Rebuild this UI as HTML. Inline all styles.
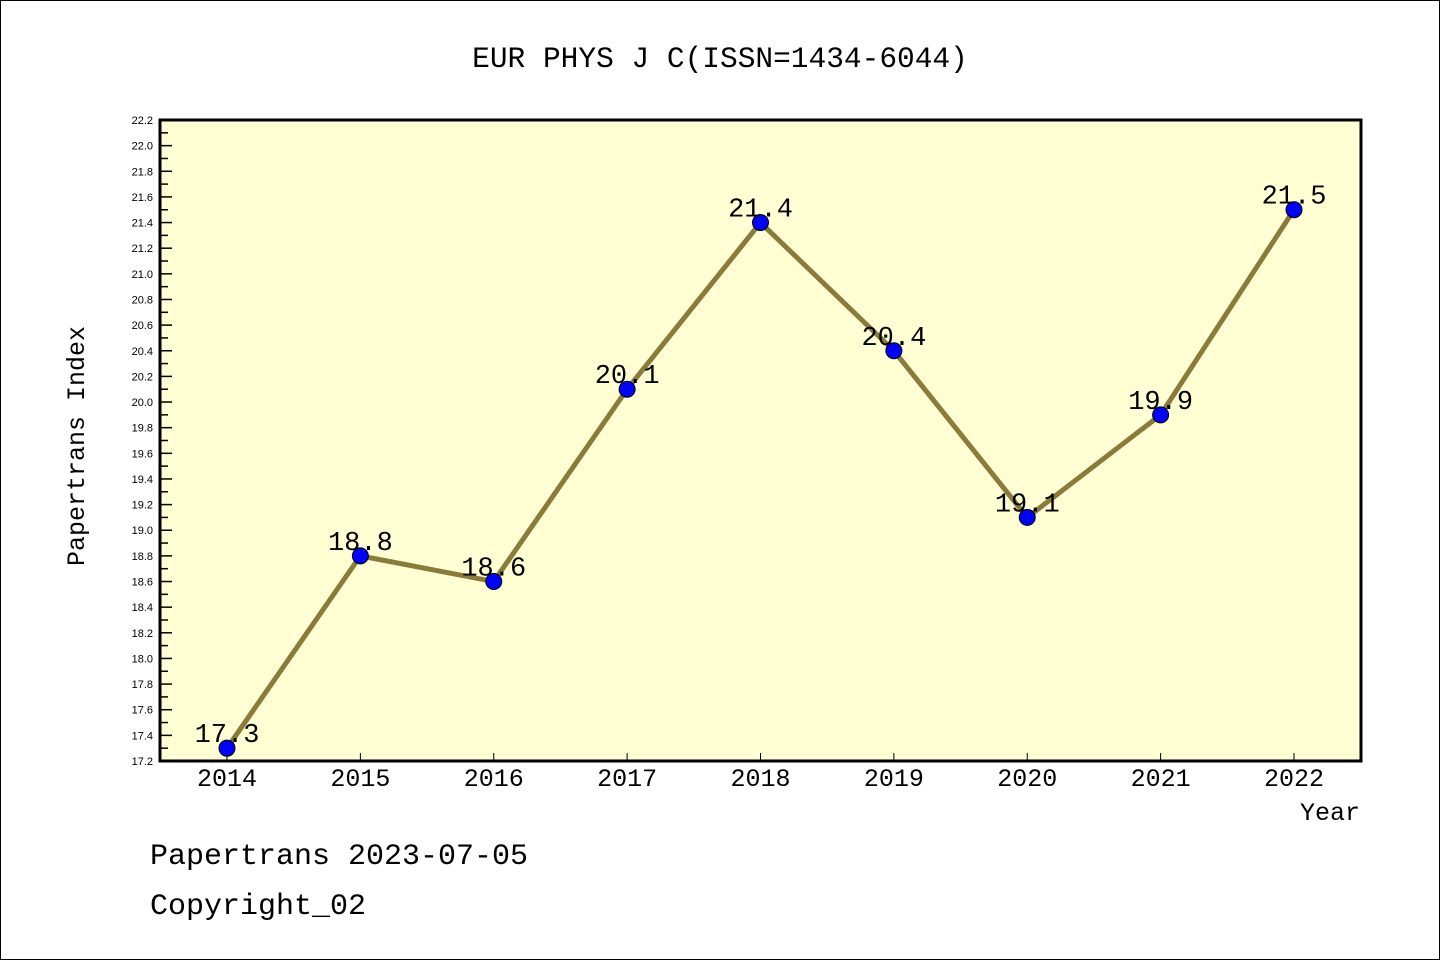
<!DOCTYPE html>
<html><head><meta charset="utf-8"><style>
body{margin:0;background:#fff}
svg{display:block;font-family:"Liberation Mono","WenQuanYi Zen Hei",monospace}
</style></head><body>
<svg width="1440" height="960" viewBox="0 0 1440 960">
<rect x="0.5" y="0.5" width="1439" height="959" fill="#fff" stroke="#000"/>
<text x="720" y="67" font-size="29.5" text-anchor="middle">EUR PHYS J C(ISSN=1434-6044)</text>
<rect x="160" y="120" width="1201" height="641" fill="#ffffd3" stroke="#000" stroke-width="3"/>
<g id="yt"></g><g id="xt"></g><g id="series"></g>
<text transform="translate(84,446) rotate(-90)" font-size="25" text-anchor="middle">Papertrans Index</text>
<text x="1360" y="820" font-size="25" text-anchor="end">Year</text>
<text x="150" y="864" font-size="30">Papertrans 2023-07-05</text>
<text x="150" y="914" font-size="30">Copyright_02</text>
</svg>
<script>
const years=[2014,2015,2016,2017,2018,2019,2020,2021,2022];
const values=[17.3,18.8,18.6,20.1,21.4,20.4,19.1,19.9,21.5];
const labels=["17.3","18.8","18.6","20.1","21.4","20.4","19.1","19.9","21.5"];
const yMin=17.2,yMax=22.2;
const NS="http://www.w3.org/2000/svg";
function X(i){return 227+i*(1294-227)/(years.length-1);}
function Y(v){return 761-(v-yMin)*(641/(yMax-yMin));}
function mk(t,a,p){const e=document.createElementNS(NS,t);for(const k in a)e.setAttribute(k,a[k]);p.appendChild(e);return e;}
const yt=document.getElementById('yt');
for(let k=0;k<=50;k++){const v=yMin+k*0.1,y=Y(v),maj=k%2==0;
 const l=mk('line',{x1:160,x2:maj?172:168,y1:y,y2:y,stroke:'#000','stroke-width':1.5},yt);
 
 
 if(maj){const t=mk('text',{x:153,y:y+4,'font-size':11,'text-anchor':'end','font-family':'Liberation Sans, sans-serif'},yt);t.textContent=v.toFixed(1);
 
 }}
const xt=document.getElementById('xt');
years.forEach((yr,i)=>{const x=X(i);
 const l=mk('line',{x1:x,x2:x,y1:761,y2:753,stroke:'#000','stroke-width':1},xt);
 
 
 const t=mk('text',{x:x,y:786,'font-size':25,'text-anchor':'middle'},xt);t.textContent=yr;
 
 });
const s=document.getElementById('series');
const pl=mk('polyline',{points:values.map((v,i)=>X(i)+','+Y(v)).join(' '),fill:'none',stroke:'#8b7b3a','stroke-width':5},s);


values.forEach((v,i)=>{
 const c=mk('circle',{cx:X(i),cy:Y(v),r:8,fill:'#0000ff',stroke:'#000','stroke-width':1},s);
 
 
 const t=mk('text',{x:X(i),y:Y(v)-6,'font-size':27,'text-anchor':'middle'},s);t.textContent=labels[i];
 
 });
</script>
</body></html>
